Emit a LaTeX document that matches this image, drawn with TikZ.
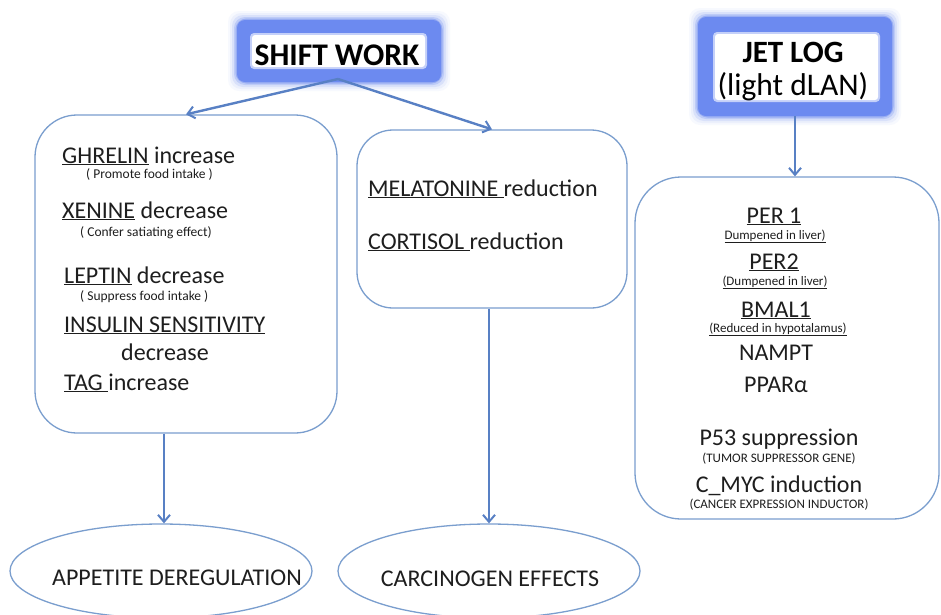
\documentclass[tikz,border=0pt]{standalone}
\usepackage{fontspec}
\setmainfont{Carlito}
\usetikzlibrary{arrows.meta,shapes.geometric}
\definecolor{glowblue}{RGB}{108,138,240}
\definecolor{connblue}{RGB}{88,128,196}
\definecolor{lineblue}{RGB}{122,158,206}
\definecolor{txt}{RGB}{30,30,30}
\tikzset{
  conn/.style={draw=connblue, line width=2.4pt, -{Straight Barb[length=7pt,width=12pt,line width=2pt]}},
  roundbox/.style={draw=lineblue, line width=1.3pt, rectangle, inner sep=0pt},
  ovalbox/.style={draw=lineblue, line width=1.3pt, ellipse, inner sep=0pt},
  big/.style={font=\fontsize{24}{26}\selectfont, text=txt, inner sep=0pt},
  small/.style={font=\fontsize{13.5}{14}\selectfont, text=txt, inner sep=0pt},
  tiny/.style={font=\fontsize{13}{14}\selectfont, text=txt, inner sep=0pt},
  head/.style={font=\fontsize{31.5}{33}\selectfont, text=black, inner sep=0pt},
}
\newcommand{\glowbox}[4]{%
  \foreach \g/\o in {9/0.05,7/0.08,5/0.14,3/0.25,1.5/0.45}{
    \fill[glowblue, opacity=\o, rounded corners=11pt] (#1-\g,#2-\g) rectangle (#3+\g,#4+\g);
  }
  \fill[glowblue, rounded corners=8pt] (#1,#2) rectangle (#3,#4);
}
\begin{document}
\begin{tikzpicture}[x=1pt,y=-1pt]
\useasboundingbox (0,0) rectangle (941,614);
\fill[white] (0,0) rectangle (941,614);

% SHIFT WORK
\glowbox{237}{20}{441}{82}
\fill[glowblue!40!white, rounded corners=4pt] (250,33) rectangle (427,69);
\fill[white, rounded corners=3pt] (252,35) rectangle (425,67);
\node[head, font=\fontsize{31.5}{33}\selectfont\bfseries, anchor=base] (swt) at (337,65) {SHIFT WORK};
\node[minimum width=204pt, minimum height=62pt, inner sep=0pt] (sw) at (339,51) {};
\coordinate (apex) at (338,79);

% JET LOG
\glowbox{698}{17}{892}{116}
\fill[glowblue!40!white, rounded corners=4pt] (713,32) rectangle (880,102);
\fill[white, rounded corners=3pt] (715,34) rectangle (878,100);
\node[head, font=\fontsize{31}{33}\selectfont\bfseries, anchor=base] (jlt) at (793,62) {JET LOG};
\node[head, anchor=base] (jls) at (793,95) {(light dLAN)};
\node[minimum width=194pt, minimum height=99pt, inner sep=0pt] (jl) at (795,66.5) {};

% boxes
\node[roundbox, rounded corners=42pt, minimum width=302pt, minimum height=318pt] (lb) at (186,274) {};
\node[roundbox, rounded corners=36pt, minimum width=270pt, minimum height=178pt] (mb) at (492,219) {};
\node[roundbox, rounded corners=46pt, minimum width=304pt, minimum height=342pt] (rb) at (787,348) {};

% ellipses
\node[ovalbox, minimum width=302pt, minimum height=94pt] (e1) at (161,571) {};
\node[ovalbox, minimum width=302pt, minimum height=94pt] (e2) at (489,571) {};
\node[big, anchor=base] (e1t) at (177,585) {APPETITE DEREGULATION};
\node[big, anchor=base] (e2t) at (490,586) {CARCINOGEN EFFECTS};

% left box text
\node[big, anchor=base west] (g1) at (62,163) {\underline{GHRELIN} increase};
\node[small, anchor=base west] (g2) at (86,178) {( Promote food intake )};
\node[big, anchor=base west] (x1) at (62,218) {\underline{XENINE} decrease};
\node[small, anchor=base west] (x2) at (80,236) {( Confer satiating effect)};
\node[big, anchor=base west] (l1) at (64,283) {\underline{LEPTIN} decrease};
\node[small, anchor=base west] (l2) at (80,300) {( Suppress food intake )};
\node[big, anchor=base west] (i1) at (64,332) {\underline{INSULIN SENSITIVITY}};
\node[big, anchor=base] (i2) at (165,360) {decrease};
\node[big, anchor=base west] (t1) at (64,390) {\underline{TAG\ }increase};

% middle box text
\node[big, anchor=base west] (m1) at (368,196) {\underline{MELATONINE\ }reduction};
\node[big, anchor=base west] (m2) at (368,249) {\underline{CORTISOL\ }reduction};

% right box text
\node[big, anchor=base] (r1) at (774,223) {\underline{PER 1}};
\node[tiny, anchor=base] (r1s) at (775,239) {\underline{Dumpened in liver)}};
\node[big, anchor=base] (r2) at (774,269) {\underline{PER2}};
\node[tiny, anchor=base] (r2s) at (775,285) {\underline{(Dumpened in liver)}};
\node[big, anchor=base] (r3) at (776,317) {\underline{BMAL1}};
\node[tiny, anchor=base] (r3s) at (778,332) {\underline{(Reduced in hypotalamus)}};
\node[big, anchor=base] (r4) at (776,360) {NAMPT};
\node[big, anchor=base] (r5) at (776,392) {PPARα};
\node[big, anchor=base] (r6) at (779,445) {P53 suppression};
\node[tiny, anchor=base] (r6s) at (779,462) {(TUMOR SUPPRESSOR GENE)};
\node[big, anchor=base] (r7) at (779,492) {C\_MYC induction};
\node[tiny, anchor=base] (r7s) at (779,508) {(CANCER EXPRESSION INDUCTOR)};

% connectors
\draw[conn] (apex) -- (lb.north);
\draw[conn] (apex) -- (mb.north);
\draw[conn] (jl.south) -- (jl.south |- rb.north);
\draw[conn] ([xshift=3pt]e1.north |- lb.south) -- ([xshift=3pt]e1.north);
\draw[conn] (e2.north |- mb.south) -- (e2.north);
\end{tikzpicture}
\end{document}
